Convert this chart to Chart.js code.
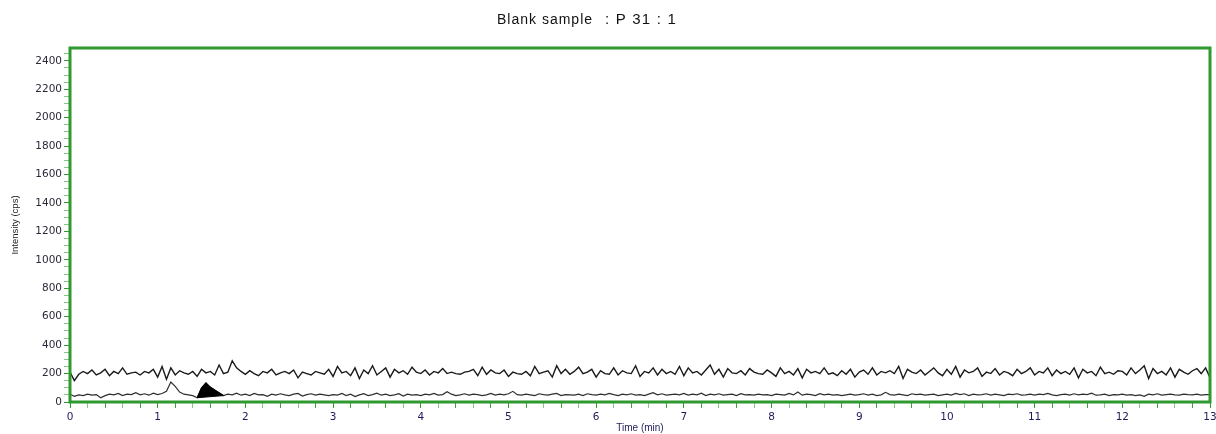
<!DOCTYPE html>
<html>
<head>
<meta charset="utf-8">
<script src="https://cdn.jsdelivr.net/npm/chart.js@4"></script>
<style>
body{margin:0;background:#fff}
</style>
</head>
<body>
<canvas id="chromchart" width="1216" height="434"></canvas>
<script>
const titleText = "Blank sample";
const titleSample = ": P 31 : 1";
const timeStep = 0.05;

// upper trace, one row per minute (0.05 min sampling)
const upperTrace = [
  210,150,195,215,200,225,190,205,230,185,215,200,240,195,205,210,190,215,205,230,
  175,250,160,240,190,220,205,195,215,180,230,205,215,190,260,200,210,290,240,215,
  195,220,200,185,215,205,230,190,205,215,200,225,170,210,200,190,215,205,195,230,
  180,250,205,215,185,240,165,225,200,255,190,215,240,175,230,205,220,195,245,210,
  200,225,190,215,205,235,200,210,200,195,210,215,230,185,245,195,225,205,200,225,
  180,210,200,195,215,185,250,200,210,220,175,255,200,230,195,215,245,200,210,230,
  175,220,200,195,240,190,220,205,200,255,180,215,205,240,190,230,200,215,195,250,
  185,240,205,215,190,225,260,195,230,175,235,205,200,220,190,235,210,200,195,225,
  205,180,240,200,215,190,235,170,230,205,215,200,240,195,205,185,220,195,230,175,
  210,225,195,240,190,215,205,220,200,250,165,230,210,200,225,190,215,240,205,185,
  230,195,250,175,225,205,215,240,180,210,200,235,190,215,205,185,230,200,215,240,
  190,215,205,240,185,225,200,215,195,240,170,230,205,215,185,245,200,210,195,220,
  215,190,240,200,225,255,165,235,200,215,190,240,175,230,210,195,220,235,200,240,
  170
];

const lowerTrace = [
  55,40,50,45,55,48,52,30,45,55,50,60,45,55,52,65,50,58,48,62,
  52,60,75,140,110,70,55,50,45,30,100,135,105,85,65,45,55,50,62,48,
  55,45,60,50,52,40,55,48,58,50,45,55,60,42,52,58,48,55,50,45,
  52,48,60,45,55,38,50,58,45,52,62,48,55,45,50,58,42,55,48,52,
  45,55,50,60,48,52,72,55,45,50,58,48,55,52,45,50,60,48,55,50,
  58,75,52,48,55,50,45,58,52,48,55,60,45,52,50,48,55,45,58,52,
  48,55,50,60,52,45,55,50,58,48,52,45,55,65,50,58,48,52,55,50,
  60,48,55,50,62,45,55,50,58,48,52,55,45,58,50,52,48,55,50,52,
  45,55,52,48,60,50,70,48,55,52,45,58,50,55,48,52,45,50,55,48,
  52,58,48,55,45,50,68,52,48,55,50,45,58,52,55,48,52,55,45,50,
  55,48,60,52,58,45,55,50,52,58,48,55,50,45,55,52,58,48,50,55,
  48,55,52,60,50,45,52,55,48,58,50,55,52,62,48,50,55,45,52,50,
  55,48,52,45,50,40,55,50,58,48,52,55,50,48,55,52,50,55,48,52,
  52
];

// integrated peak (filled black) and its baseline
const peakStart = 1.45;
const peakEnd = 1.75;
const peakBase = [30, 45];

const xTickLabels = [0,1,2,3,4,5,6,7,8,9,10,11,12,13];
const yTickLabels = [0,200,400,600,800,1000,1200,1400,1600,1800,2000,2200,2400];

function toPoints(arr){
    return arr.map((v, i) => ({x: +(i * timeStep).toFixed(2), y: v}));
}
const upperPts = toPoints(upperTrace);
const lowerPts = toPoints(lowerTrace);
const peakPts = lowerPts.slice(Math.round(peakStart / timeStep), Math.round(peakEnd / timeStep) + 1);
const basePts = [{x: peakStart, y: peakBase[0]}, {x: peakEnd, y: peakBase[1]}];

const frame = {
    id: "frame",
    afterDatasetsDraw(chart){
        const {ctx, chartArea: a} = chart;
        ctx.save();
        ctx.strokeStyle = "#2f992f";
        ctx.lineWidth = 3;
        ctx.strokeRect(a.left, a.top, a.right - a.left, a.bottom - a.top);
        ctx.restore();
    }
};

const heading = {
    id: "heading",
    afterDraw(chart){
        const ctx = chart.ctx;
        ctx.save();
        ctx.fillStyle = "#111";
        ctx.textBaseline = "alphabetic";
        ctx.font = '14px "Liberation Sans", Arial';
        ctx.letterSpacing = "1px";
        ctx.fillText(titleText, 497, 24);
        ctx.font = '15px "Liberation Sans", Arial';
        ctx.letterSpacing = "1.2px";
        ctx.fillText(titleSample, 605, 24);
        ctx.restore();
    }
};

Chart.defaults.font.family = '"Liberation Sans", Arial, sans-serif';
Chart.defaults.font.size = 11;

new Chart("chromchart", {
    type: "line",
    data: {
        datasets: [
            {
                data: peakPts,
                borderColor: "#000",
                borderWidth: 1,
                backgroundColor: "#000",
                fill: "+1",
                pointRadius: 0,
                tension: 0
            },
            {
                data: basePts,
                borderColor: "#000",
                borderWidth: 1,
                fill: false,
                pointRadius: 0
            },
            {
                data: upperPts,
                borderColor: "#1a1a1a",
                borderWidth: 1.4,
                fill: false,
                pointRadius: 0,
                tension: 0
            },
            {
                data: lowerPts,
                borderColor: "#2e2e2e",
                borderWidth: 1.2,
                fill: false,
                pointRadius: 0,
                tension: 0
            }
        ]
    },
    options: {
        responsive: false,
        animation: false,
        devicePixelRatio: 1,
        layout: {padding: {top: 48, right: 0, left: 0, bottom: 0}},
        plugins: {
            legend: {display: false},
            tooltip: {enabled: false}
        },
        scales: {
            x: {
                type: "linear",
                min: 0,
                max: 13,
                afterBuildTicks(s){
                    const t = [];
                    for (let i = 0; i <= 65; i++) t.push({value: Math.round(i * 2) / 10});
                    s.ticks = t;
                },
                afterFit(s){ s.height = 32; s.paddingRight = 6; s.paddingLeft = 0; },
                border: {display: false},
                grid: {
                    drawOnChartArea: false,
                    tickLength: 6,
                    tickColor: c => xTickLabels.includes(c.tick.value) ? "#2f992f" : (Math.round(c.tick.value * 5) % 2 ? "#86c986" : "#3fa33f")
                },
                ticks: {
                    autoSkip: false,
                    maxRotation: 0,
                    padding: 3,
                    color: "#1c1c5a",
                    font: {family: '"DejaVu Sans", sans-serif', size: 10.5},
                    callback: v => xTickLabels.includes(v) ? String(v) : ""
                },
                title: {
                    display: true,
                    text: "Time (min)",
                    color: "#1c1c5a",
                    font: {size: 10},
                    padding: {top: 0, bottom: 0}
                }
            },
            y: {
                type: "linear",
                min: 0,
                max: 2490,
                afterBuildTicks(s){
                    const t = [];
                    for (let v = 0; v <= 2450; v += 50) t.push({value: v});
                    s.ticks = t;
                },
                afterFit(s){ s.width = 70; },
                border: {display: false},
                grid: {
                    drawOnChartArea: false,
                    tickLength: 6,
                    tickColor: c => yTickLabels.includes(c.tick.value) ? "#2f992f" : "#86c986"
                },
                ticks: {
                    autoSkip: false,
                    padding: 2,
                    color: "#2a2a3a",
                    font: {family: '"DejaVu Sans", sans-serif', size: 10.5},
                    callback: v => yTickLabels.includes(v) ? String(v) : ""
                },
                title: {
                    display: true,
                    text: "Intensity (cps)",
                    color: "#1a1a1a",
                    font: {size: 9.5},
                    padding: {top: 10, bottom: 0}
                }
            }
        }
    },
    plugins: [frame, heading]
});
</script>
</body>
</html>
